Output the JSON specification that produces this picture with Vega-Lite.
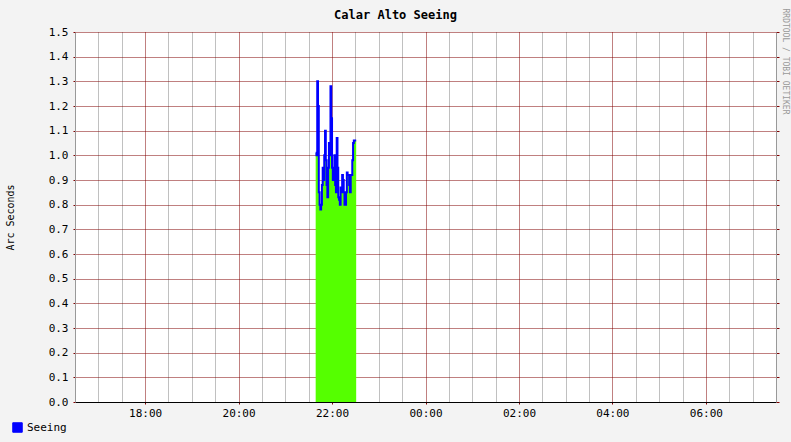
{
  "$schema": "https://vega.github.io/schema/vega-lite/v6.json",
  "width": 701,
  "height": 370,
  "autosize": {"type": "none"},
  "padding": {"left": 75, "top": 32, "right": 15, "bottom": 40},
  "background": "#f3f3f3",
  "title": {
    "text": "Calar Alto Seeing",
    "font": "DejaVu Sans Mono",
    "fontSize": 12,
    "fontWeight": "bold",
    "color": "#000000",
    "anchor": "middle",
    "frame": "group",
    "dx": -30,
    "dy": 26,
    "offset": 12
  },
  "config": {
    "view": {"fill": "#ffffff", "stroke": null},
    "axis": {"labelFont": "DejaVu Sans Mono", "titleFont": "DejaVu Sans Mono", "labelColor": "#000000", "titleColor": "#000000", "titleFontWeight": "normal"}
  },
  "data": {
    "values": [
      {"t": "2024-01-01T21:39:00", "v": 1.01, "s": "Seeing"},
      {"t": "2024-01-01T21:40:00", "v": 1.00, "s": "Seeing"},
      {"t": "2024-01-01T21:41:00", "v": 1.30, "s": "Seeing"},
      {"t": "2024-01-01T21:42:00", "v": 1.20, "s": "Seeing"},
      {"t": "2024-01-01T21:43:00", "v": 0.85, "s": "Seeing"},
      {"t": "2024-01-01T21:44:00", "v": 0.80, "s": "Seeing"},
      {"t": "2024-01-01T21:45:00", "v": 0.78, "s": "Seeing"},
      {"t": "2024-01-01T21:46:00", "v": 0.80, "s": "Seeing"},
      {"t": "2024-01-01T21:47:00", "v": 0.88, "s": "Seeing"},
      {"t": "2024-01-01T21:48:00", "v": 0.95, "s": "Seeing"},
      {"t": "2024-01-01T21:49:00", "v": 0.90, "s": "Seeing"},
      {"t": "2024-01-01T21:50:00", "v": 1.00, "s": "Seeing"},
      {"t": "2024-01-01T21:51:00", "v": 1.10, "s": "Seeing"},
      {"t": "2024-01-01T21:52:00", "v": 0.98, "s": "Seeing"},
      {"t": "2024-01-01T21:53:00", "v": 0.88, "s": "Seeing"},
      {"t": "2024-01-01T21:54:00", "v": 0.83, "s": "Seeing"},
      {"t": "2024-01-01T21:55:00", "v": 0.95, "s": "Seeing"},
      {"t": "2024-01-01T21:56:00", "v": 1.05, "s": "Seeing"},
      {"t": "2024-01-01T21:57:00", "v": 1.00, "s": "Seeing"},
      {"t": "2024-01-01T21:58:00", "v": 1.28, "s": "Seeing"},
      {"t": "2024-01-01T21:59:00", "v": 1.15, "s": "Seeing"},
      {"t": "2024-01-01T22:00:00", "v": 0.95, "s": "Seeing"},
      {"t": "2024-01-01T22:01:00", "v": 0.90, "s": "Seeing"},
      {"t": "2024-01-01T22:02:00", "v": 0.95, "s": "Seeing"},
      {"t": "2024-01-01T22:03:00", "v": 1.00, "s": "Seeing"},
      {"t": "2024-01-01T22:04:00", "v": 0.88, "s": "Seeing"},
      {"t": "2024-01-01T22:05:00", "v": 0.85, "s": "Seeing"},
      {"t": "2024-01-01T22:06:00", "v": 1.07, "s": "Seeing"},
      {"t": "2024-01-01T22:07:00", "v": 0.95, "s": "Seeing"},
      {"t": "2024-01-01T22:08:00", "v": 0.83, "s": "Seeing"},
      {"t": "2024-01-01T22:09:00", "v": 0.82, "s": "Seeing"},
      {"t": "2024-01-01T22:10:00", "v": 0.80, "s": "Seeing"},
      {"t": "2024-01-01T22:11:00", "v": 0.87, "s": "Seeing"},
      {"t": "2024-01-01T22:12:00", "v": 0.85, "s": "Seeing"},
      {"t": "2024-01-01T22:13:00", "v": 0.92, "s": "Seeing"},
      {"t": "2024-01-01T22:14:00", "v": 0.90, "s": "Seeing"},
      {"t": "2024-01-01T22:15:00", "v": 0.85, "s": "Seeing"},
      {"t": "2024-01-01T22:16:00", "v": 0.80, "s": "Seeing"},
      {"t": "2024-01-01T22:17:00", "v": 0.80, "s": "Seeing"},
      {"t": "2024-01-01T22:18:00", "v": 0.85, "s": "Seeing"},
      {"t": "2024-01-01T22:19:00", "v": 0.93, "s": "Seeing"},
      {"t": "2024-01-01T22:20:00", "v": 0.92, "s": "Seeing"},
      {"t": "2024-01-01T22:21:00", "v": 0.92, "s": "Seeing"},
      {"t": "2024-01-01T22:22:00", "v": 0.88, "s": "Seeing"},
      {"t": "2024-01-01T22:23:00", "v": 0.85, "s": "Seeing"},
      {"t": "2024-01-01T22:24:00", "v": 0.92, "s": "Seeing"},
      {"t": "2024-01-01T22:25:00", "v": 0.92, "s": "Seeing"},
      {"t": "2024-01-01T22:26:00", "v": 0.98, "s": "Seeing"},
      {"t": "2024-01-01T22:27:00", "v": 1.05, "s": "Seeing"},
      {"t": "2024-01-01T22:28:00", "v": 1.06, "s": "Seeing"},
      {"t": "2024-01-01T22:29:00", "v": 1.06, "s": "Seeing"},
      {"t": "2024-01-01T22:30:00", "v": 1.06, "s": "Seeing"},
      {"t": "2024-01-01T22:31:00", "v": 1.06, "s": "Seeing"}
    ]
  },
  "resolve": {"axis": {"x": "independent", "y": "independent"}},
  "layer": [
    {
      "mark": {"type": "area", "interpolate": "step-after", "color": "#55ff00", "opacity": 1},
      "encoding": {
        "x": {
          "field": "t", "type": "temporal",
          "scale": {"domain": [{"year": 2024, "month": 1, "date": 1, "hours": 16, "minutes": 30}, {"year": 2024, "month": 1, "date": 2, "hours": 7, "minutes": 30}]},
          "axis": {
            "orient": "bottom", "title": null, "labels": false, "ticks": false, "domain": false,
            "grid": true, "gridColor": "#808080", "gridDash": [1, 1], "gridOpacity": 1,
            "values": [
              {"year": 2024, "month": 1, "date": 1, "hours": 17, "minutes": 0},
              {"year": 2024, "month": 1, "date": 1, "hours": 17, "minutes": 30},
              {"year": 2024, "month": 1, "date": 1, "hours": 18, "minutes": 30},
              {"year": 2024, "month": 1, "date": 1, "hours": 19, "minutes": 0},
              {"year": 2024, "month": 1, "date": 1, "hours": 19, "minutes": 30},
              {"year": 2024, "month": 1, "date": 1, "hours": 20, "minutes": 30},
              {"year": 2024, "month": 1, "date": 1, "hours": 21, "minutes": 0},
              {"year": 2024, "month": 1, "date": 1, "hours": 21, "minutes": 30},
              {"year": 2024, "month": 1, "date": 1, "hours": 22, "minutes": 30},
              {"year": 2024, "month": 1, "date": 1, "hours": 23, "minutes": 0},
              {"year": 2024, "month": 1, "date": 1, "hours": 23, "minutes": 30},
              {"year": 2024, "month": 1, "date": 2, "hours": 0, "minutes": 30},
              {"year": 2024, "month": 1, "date": 2, "hours": 1, "minutes": 0},
              {"year": 2024, "month": 1, "date": 2, "hours": 1, "minutes": 30},
              {"year": 2024, "month": 1, "date": 2, "hours": 2, "minutes": 30},
              {"year": 2024, "month": 1, "date": 2, "hours": 3, "minutes": 0},
              {"year": 2024, "month": 1, "date": 2, "hours": 3, "minutes": 30},
              {"year": 2024, "month": 1, "date": 2, "hours": 4, "minutes": 30},
              {"year": 2024, "month": 1, "date": 2, "hours": 5, "minutes": 0},
              {"year": 2024, "month": 1, "date": 2, "hours": 5, "minutes": 30},
              {"year": 2024, "month": 1, "date": 2, "hours": 6, "minutes": 30},
              {"year": 2024, "month": 1, "date": 2, "hours": 7, "minutes": 0}
            ]
          }
        },
        "y": {
          "field": "v", "type": "quantitative",
          "scale": {"domain": [0, 1.5], "nice": false, "zero": true},
          "axis": {
            "title": "Arc Seconds", "titleFontSize": 10, "titleX": -60,
            "values": [0, 0.1, 0.2, 0.3, 0.4, 0.5, 0.6, 0.7, 0.8, 0.9, 1.0, 1.1, 1.2, 1.3, 1.4, 1.5],
            "format": ".1f", "labelFontSize": 11, "labelPadding": 5,
            "grid": true, "gridColor": "#800000", "gridDash": [1, 1], "gridOpacity": 1,
            "tickColor": "#800000", "tickSize": 2, "domainColor": "#999999"
          }
        }
      }
    },
    {
      "mark": {"type": "line", "interpolate": "step-after", "strokeWidth": 2},
      "encoding": {
        "x": {
          "field": "t", "type": "temporal",
          "axis": {
            "orient": "bottom", "title": null, "format": "%H:%M", "labelFontSize": 11, "labelPadding": 3,
            "grid": true, "gridColor": "#800000", "gridDash": [1, 1], "gridOpacity": 1,
            "tickColor": "#800000", "tickSize": 2, "domainColor": "#000000",
            "values": [
              {"year": 2024, "month": 1, "date": 1, "hours": 18, "minutes": 0},
              {"year": 2024, "month": 1, "date": 1, "hours": 20, "minutes": 0},
              {"year": 2024, "month": 1, "date": 1, "hours": 22, "minutes": 0},
              {"year": 2024, "month": 1, "date": 2, "hours": 0, "minutes": 0},
              {"year": 2024, "month": 1, "date": 2, "hours": 2, "minutes": 0},
              {"year": 2024, "month": 1, "date": 2, "hours": 4, "minutes": 0},
              {"year": 2024, "month": 1, "date": 2, "hours": 6, "minutes": 0}
            ]
          }
        },
        "y": {
          "field": "v", "type": "quantitative",
          "axis": {
            "orient": "right", "labels": false, "grid": false,
            "values": [0, 0.1, 0.2, 0.3, 0.4, 0.5, 0.6, 0.7, 0.8, 0.9, 1.0, 1.1, 1.2, 1.3, 1.4, 1.5],
            "tickColor": "#800000", "tickSize": 3, "domainColor": "#999999",
            "title": "RRDTOOL / TOBI OETIKER", "titleAngle": 90, "titleFontSize": 8,
            "titleColor": "#999999", "titleX": 8, "titleY": -24, "titleAlign": "left", "titleBaseline": "middle"
          }
        },
        "color": {
          "field": "s", "type": "nominal",
          "scale": {"range": ["#0000ff"]},
          "legend": {
            "title": null, "orient": "none", "legendX": -63, "legendY": 390,
            "symbolType": "square", "symbolSize": 90, "labelFont": "DejaVu Sans Mono", "labelFontSize": 11, "labelColor": "#000000",
            "symbolStrokeWidth": 1,
            "symbolStrokeColor": "#000000",
            "symbolFillColor": "#0000ff",
            "labelOffset": 4
          }
        }
      }
    }
  ]
}
